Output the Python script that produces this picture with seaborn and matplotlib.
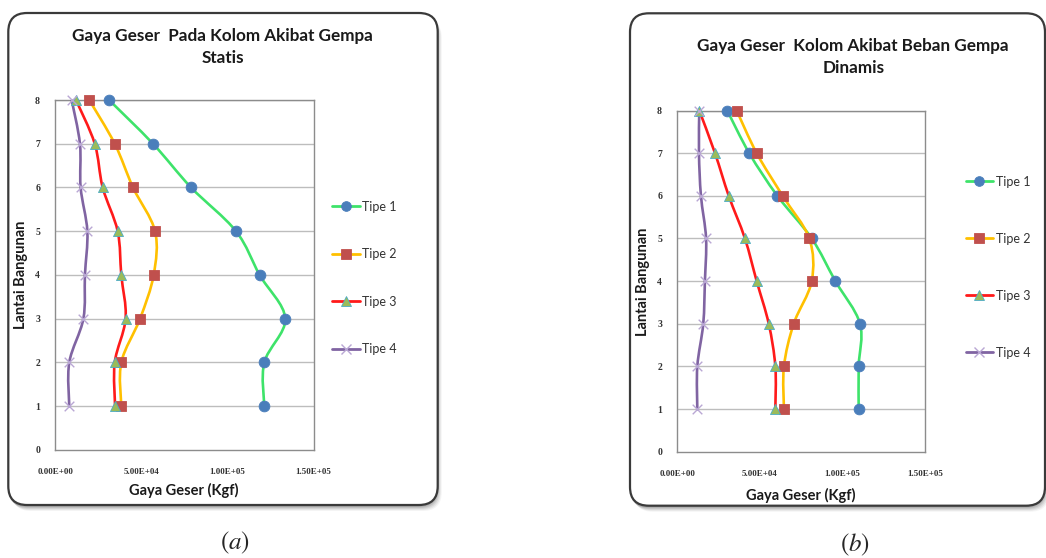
import numpy as np
import matplotlib
matplotlib.use("Agg")
import matplotlib.pyplot as plt
import seaborn as sns
from matplotlib.path import Path
from matplotlib.patches import PathPatch, FancyBboxPatch
from matplotlib.lines import Line2D

# ---------------- data ----------------
floors = [1, 2, 3, 4, 5, 6, 7, 8]
series_names = ["Tipe 1", "Tipe 2", "Tipe 3", "Tipe 4"]

statis_tipe1 = [121300, 121300, 133500, 118600, 104900, 78800, 56700, 31200]
statis_tipe2 = [38300, 38300, 49200, 57100, 57900, 45100, 34500, 19700]
statis_tipe3 = [34700, 34500, 40800, 38300, 36200, 27500, 22900, 12000]
statis_tipe4 = [8100, 8100, 16300, 17200, 18600, 14700, 14300, 9500]

dinamis_tipe1 = [109700, 109700, 110500, 95600, 81300, 60500, 43500, 30200]
dinamis_tipe2 = [64500, 64500, 70400, 81300, 79800, 63700, 48000, 35900]
dinamis_tipe3 = [59300, 59300, 55300, 48000, 40900, 31100, 22800, 13300]
dinamis_tipe4 = [12100, 12100, 15700, 16700, 17400, 14300, 13100, 13300]

x_ticks = [0, 50000, 100000, 150000]
x_tick_labels = ["0.00E+00", "5.00E+04", "1.00E+05", "1.50E+05"]
y_ticks = [0, 1, 2, 3, 4, 5, 6, 7, 8]

title_a = ["Gaya Geser  Pada Kolom Akibat Gempa", "Statis"]
title_b = ["Gaya Geser  Kolom Akibat Beban Gempa", "Dinamis"]
xlabel = "Gaya Geser (Kgf)"
ylabel = "Lantai Bangunan"

# ---------------- styles ----------------
line_colors = ["#3EE36A", "#FFC000", "#FF1A1A", "#8064A2"]
marker_fc = ["#4A7EBB", "#C0504D", "#9BBB59", "#B9A7D4"]
marker_ec = ["#4A7EBB", "#C0504D", "#4BACC6", "#B9A7D4"]
markers = ["o", "s", "^", "x"]
msizes = [60, 48, 52, 48]

sns.set_theme(style="white")
plt.rcParams["font.family"] = ["Lato", "DejaVu Sans"]

W, H = 1046, 558
fig = plt.figure(figsize=(W / 100, H / 100), dpi=100)


def fx(px):
    return px / W


def fy(py):
    return 1 - py / H


def smooth_path(xs, ys):
    pts = np.column_stack([xs, ys]).astype(float)
    n = len(pts)
    verts = [pts[0]]
    codes = [Path.MOVETO]
    for i in range(n - 1):
        p0 = pts[i - 1] if i > 0 else pts[i]
        p1 = pts[i]
        p2 = pts[i + 1]
        p3 = pts[i + 2] if i + 2 < n else pts[i + 1]
        c1 = p1 + (p2 - p0) / 6.0
        c2 = p2 - (p3 - p1) / 6.0
        verts += [c1, c2, p2]
        codes += [Path.CURVE4] * 3
    return Path(verts, codes)


def draw_box(x0, y0, x1, y1):
    for off, a in [(6, 0.08), (5, 0.12), (4, 0.16), (3, 0.22), (2, 0.28)]:
        sh = FancyBboxPatch((fx(x0 + off - 2), fy(y1 + off)), fx(x1 - x0), (y1 - y0) / H,
                            boxstyle="round,pad=0,rounding_size=0.018",
                            transform=fig.transFigure, facecolor="#7a7a7a",
                            edgecolor="none", alpha=a, zorder=0,
                            mutation_aspect=W / H)
        fig.patches.append(sh)
    box = FancyBboxPatch((fx(x0), fy(y1)), fx(x1 - x0), (y1 - y0) / H,
                         boxstyle="round,pad=0,rounding_size=0.018",
                         transform=fig.transFigure, facecolor="white",
                         edgecolor="#3a3a3a", linewidth=1.6, zorder=1,
                         mutation_aspect=W / H)
    fig.patches.append(box)


def panel(rect_px, data, title_lines, title_pos, xlab_pos, ylab_pos,
          legend_pos, legend_spacing, caption, caption_pos):
    left, top, right, bottom = rect_px
    ax = fig.add_axes([fx(left), fy(bottom), fx(right - left), (bottom - top) / H])
    ax.set_zorder(2)
    ax.patch.set_alpha(0)
    ax.set_xlim(0, 150000)
    ax.set_ylim(0, 8)
    ax.set_xticks(x_ticks)
    ax.set_xticklabels(x_tick_labels)
    ax.set_yticks(y_ticks)
    ax.tick_params(axis="x", length=0, pad=13, labelsize=6.5, labelcolor="#333333")
    ax.tick_params(axis="y", length=0, pad=11, labelsize=7, labelcolor="#333333")
    for lab in ax.get_xticklabels() + ax.get_yticklabels():
        lab.set_family(["Liberation Serif", "DejaVu Serif"])
        lab.set_fontweight("bold")
    for y in y_ticks[1:]:
        ax.axhline(y, color="#BDBDBD", lw=1.0, zorder=1)
    for sp in ax.spines.values():
        sp.set_color("#8C8C8C")
        sp.set_linewidth(1.0)
    ax.grid(False)

    for i, vals in enumerate(data):
        pth = smooth_path(vals, floors)
        ax.add_patch(PathPatch(pth, facecolor="none", edgecolor=line_colors[i],
                               lw=1.9, transform=ax.transData, zorder=3,
                               capstyle="round", joinstyle="round"))
        if markers[i] == "x":
            sns.scatterplot(x=vals, y=floors, marker="x", color=marker_fc[i], s=msizes[i],
                            linewidth=1.0, ax=ax, zorder=4, clip_on=False, legend=False)
        else:
            sns.scatterplot(x=vals, y=floors, marker=markers[i], color=marker_fc[i],
                            edgecolor=marker_ec[i], linewidth=0.6, s=msizes[i],
                            ax=ax, zorder=4, clip_on=False, legend=False)
    ax.set_xlabel("")
    ax.set_ylabel("")

    fig.text(fx(xlab_pos[0]), fy(xlab_pos[1]), xlabel, ha="center", va="center",
             fontsize=10.5, fontweight="bold", color="#1a1a1a")
    fig.text(fx(ylab_pos[0]), fy(ylab_pos[1]), ylabel, ha="center", va="center",
             rotation=90, fontsize=10.5, fontweight="bold", color="#1a1a1a")
    fig.text(fx(title_pos[0]), fy(title_pos[1]), title_lines[0], ha="center", va="center",
             fontsize=12.3, fontweight="bold", color="#1a1a1a")
    fig.text(fx(title_pos[0]), fy(title_pos[1] + 22), title_lines[1], ha="center", va="center",
             fontsize=12.3, fontweight="bold", color="#1a1a1a")

    handles = []
    for i in range(4):
        if markers[i] == "x":
            h = Line2D([], [], color=line_colors[i], lw=2.0, marker="x", markersize=7,
                       markeredgecolor=marker_fc[i], markeredgewidth=1.0)
        else:
            h = Line2D([], [], color=line_colors[i], lw=2.0, marker=markers[i], markersize=7,
                       markerfacecolor=marker_fc[i], markeredgecolor=marker_ec[i],
                       markeredgewidth=0.6)
        handles.append(h)
    fig.legend(handles, series_names, loc="center left",
               bbox_to_anchor=(fx(legend_pos[0]), fy(legend_pos[1])),
               bbox_transform=fig.transFigure, frameon=False, fontsize=9,
               handlelength=2.2, handletextpad=0.2, labelspacing=legend_spacing,
               borderpad=0, borderaxespad=0, labelcolor="#333333")

    fig.text(fx(caption_pos[0]), fy(caption_pos[1]), caption, ha="center", va="center",
             fontsize=18, math_fontfamily="stix")
    return ax


draw_box(8.3, 13, 437.7, 505)
draw_box(630, 13.3, 1045, 505.7)

panel((55.3, 100.0, 313.7, 449.9),
      [statis_tipe1, statis_tipe2, statis_tipe3, statis_tipe4],
      title_a, (222.7, 36), (184, 490.7), (20.7, 275), (332, 278), 2.85,
      r"$(a)$", (235, 543))
panel((677.3, 110.5, 925.3, 451.7),
      [dinamis_tipe1, dinamis_tipe2, dinamis_tipe3, dinamis_tipe4],
      title_b, (853.3, 46), (801, 495.5), (643.3, 281.5), (965.7, 267.3), 3.6,
      r"$(b)$", (855, 545))

fig.savefig("out.png", dpi=100, facecolor="white")
